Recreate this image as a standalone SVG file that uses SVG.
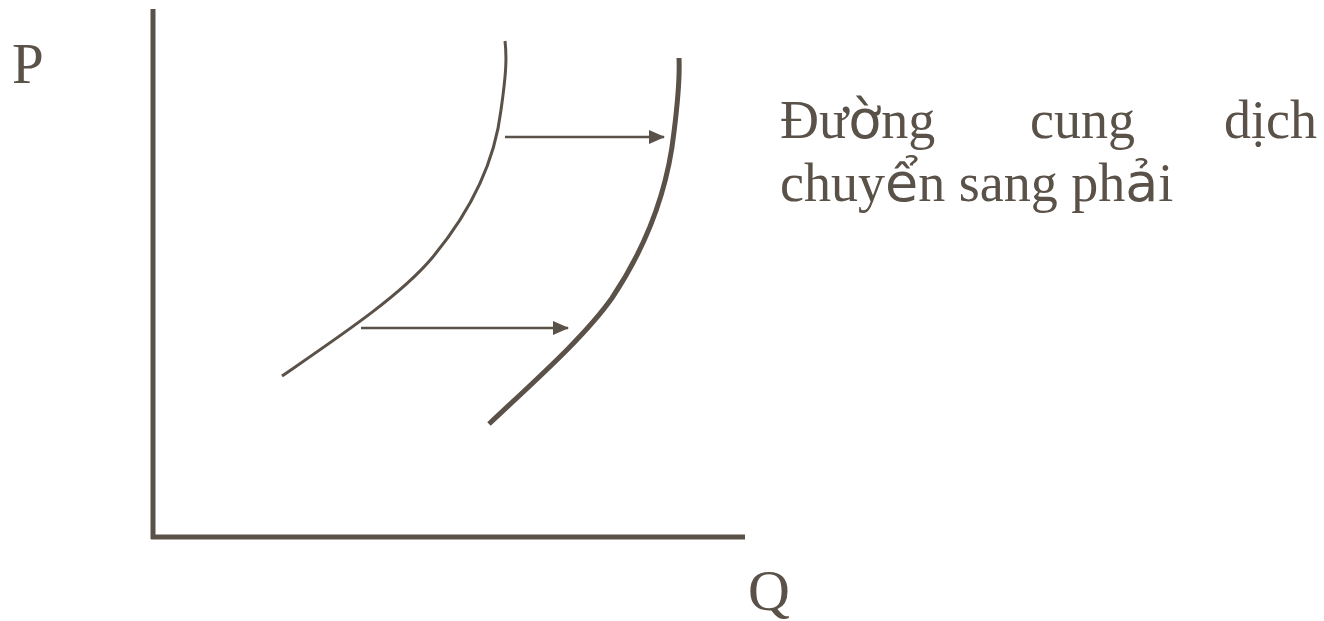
<svg xmlns="http://www.w3.org/2000/svg" width="1324" height="621" viewBox="0 0 1324 621">
<style>
.ink{fill:none;stroke:#5a5148;stroke-linecap:butt}
.t{font-family:"Liberation Serif","DejaVu Serif",serif;fill:#5a5148}
.s{font-family:"DejaVu Sans","Liberation Sans",sans-serif}
</style>
<defs>
<marker id="ah" viewBox="0 0 16 14" refX="15" refY="7" markerWidth="16" markerHeight="14" markerUnits="userSpaceOnUse" orient="auto">
<path d="M0,0 L16,7 L0,14 Z" fill="#5a5148"/>
</marker>
</defs>
<rect width="1324" height="621" fill="#fff"/>
<g id="axes">
<line class="ink" x1="153" y1="9" x2="153" y2="539" stroke-width="5"/>
<line class="ink" x1="151" y1="537" x2="745" y2="537" stroke-width="5"/>
</g>
<g id="label-P"><text class="t" x="12" y="83" font-size="57">P</text></g>
<g id="label-Q"><text class="t" x="748" y="610" font-size="58">Q</text></g>
<g id="curve-S1">
<path class="ink" stroke-width="3" d="M282,376 C340,336 400,296 432,258 C472,210 495,160 501,110 C506,75 507,58 505,41"/>
</g>
<g id="curve-S2">
<path class="ink" stroke-width="5" d="M489,424 C540,376 585,336 612,298 C648,244 668,186 674,132 C678,100 680,80 679,58"/>
</g>
<g id="connectors">
<line class="ink" x1="505" y1="137" x2="664" y2="137" stroke-width="2.5" marker-end="url(#ah)"/>
<line class="ink" x1="361" y1="328" x2="568" y2="328" stroke-width="2.5" marker-end="url(#ah)"/>
</g>
<g id="caption">
<text class="t" font-size="54"><tspan x="780" y="138">Đư<tspan class="s" font-size="54">ờ</tspan>ng</tspan><tspan x="1030" y="138">cung</tspan><tspan x="1224" y="138">dịch</tspan></text>
<text class="t" font-size="54" x="780" y="201">chuy<tspan class="s" font-size="54">ể</tspan>n sang ph<tspan class="s" font-size="54">ả</tspan>i</text>
</g>
</svg>
